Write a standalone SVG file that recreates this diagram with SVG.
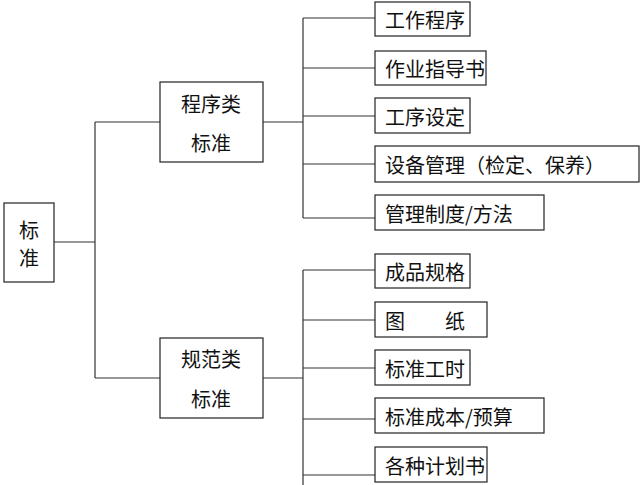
<svg xmlns="http://www.w3.org/2000/svg" width="640" height="485" viewBox="0 0 640 485">
<style>
rect{fill:#fff;stroke:#222;stroke-width:1.2}
line{stroke:#333;stroke-width:1.2}
text{font-family:"Noto Sans CJK SC","Liberation Sans",sans-serif;font-size:20px;fill:#111;dominant-baseline:central}
</style>
<rect width="640" height="485" style="fill:#fff;stroke:none"/>
<g id="connectors">
<line x1="54" y1="242" x2="95" y2="242"/>
<line x1="95" y1="122" x2="95" y2="378"/>
<line x1="95" y1="122" x2="160" y2="122"/>
<line x1="95" y1="378" x2="160" y2="378"/>
<line x1="263" y1="122" x2="303" y2="122"/>
<line x1="303" y1="18" x2="303" y2="218"/>
<line x1="303" y1="18" x2="375" y2="18"/>
<line x1="303" y1="68" x2="375" y2="68"/>
<line x1="303" y1="116" x2="375" y2="116"/>
<line x1="303" y1="164" x2="375" y2="164"/>
<line x1="303" y1="218" x2="375" y2="218"/>
<line x1="263" y1="378" x2="303" y2="378"/>
<line x1="303" y1="270" x2="303" y2="485"/>
<line x1="303" y1="270" x2="375" y2="270"/>
<line x1="303" y1="320" x2="375" y2="320"/>
<line x1="303" y1="368" x2="375" y2="368"/>
<line x1="303" y1="419" x2="375" y2="419"/>
<line x1="303" y1="475" x2="375" y2="475"/>
</g>
<g id="root"><rect x="4" y="203" width="50" height="79"/><text x="29" y="229" text-anchor="middle">标</text><text x="29" y="257" text-anchor="middle">准</text></g>
<g id="n1"><rect x="160" y="82" width="103" height="80"/><text x="211" y="103" text-anchor="middle">程序类</text><text x="211" y="142" text-anchor="middle">标准</text></g>
<g id="n2"><rect x="160" y="338" width="103" height="80"/><text x="211" y="358" text-anchor="middle">规范类</text><text x="211" y="398" text-anchor="middle">标准</text></g>
<g id="a1"><rect x="375" y="2" width="95" height="34"/><text x="385" y="19">工作程序</text></g>
<g id="a2"><rect x="375" y="51" width="111" height="34"/><text x="385" y="68">作业指导书</text></g>
<g id="a3"><rect x="375" y="98" width="95" height="35"/><text x="385" y="116">工序设定</text></g>
<g id="a4"><rect x="375" y="146" width="264" height="36"/><text x="385" y="164">设备管理（检定、保养）</text></g>
<g id="a5"><rect x="375" y="195" width="169" height="35"/><text x="385" y="213">管理制度/方法</text></g>
<g id="b1"><rect x="375" y="254" width="95" height="34"/><text x="385" y="271">成品规格</text></g>
<g id="b2"><rect x="375" y="302" width="112" height="35"/><text x="385" y="320">图</text><text x="445" y="320">纸</text></g>
<g id="b3"><rect x="375" y="350" width="95" height="35"/><text x="385" y="368">标准工时</text></g>
<g id="b4"><rect x="375" y="398" width="169" height="35"/><text x="385" y="416">标准成本/预算</text></g>
<g id="b5"><rect x="375" y="447" width="112" height="35"/><text x="385" y="465">各种计划书</text></g>
</svg>
